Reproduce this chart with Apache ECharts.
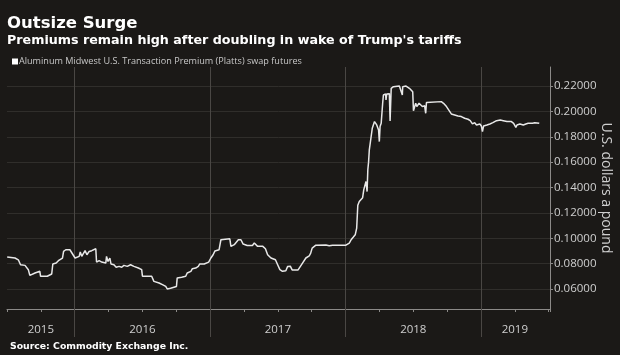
<!DOCTYPE html>
<html>
<head>
<meta charset="utf-8">
<script src="https://cdn.jsdelivr.net/npm/echarts@6/dist/echarts.min.js"></script>
<style>
html,body{margin:0;padding:0;background:#1b1917;}
#chart{width:620px;height:355px;}
</style>
</head>
<body>
<div id="chart"></div>
<script>
var titleText = 'Outsize Surge';
var subtitleText = "Premiums remain high after doubling in wake of Trump's tariffs";
var seriesName = 'Aluminum Midwest U.S. Transaction Premium (Platts) swap futures';
var sourceText = 'Source: Commodity Exchange Inc.';
var yAxisName = 'U.S. dollars a pound';

var yearLabels = ['2015', '2016', '2017', '2018', '2019'];
var yearBoundaries = [2016, 2017, 2018, 2019];
var axisStart = 2015.5;
var axisEndDate = '2019-07-06';

var dates = [
'2015-07-03','2015-07-24','2015-08-02','2015-08-08','2015-08-20','2015-08-29','2015-09-02','2015-09-16','2015-09-29','2015-10-01',
'2015-10-19','2015-10-31','2015-11-03','2015-11-12','2015-11-18','2015-11-29','2015-12-02','2015-12-08','2015-12-19','2015-12-24',
'2016-01-02','2016-01-06','2016-01-13','2016-01-16','2016-01-20','2016-01-29','2016-02-03','2016-02-09','2016-02-16','2016-02-27',
'2016-02-29','2016-03-07','2016-03-14','2016-03-25','2016-03-27','2016-03-31','2016-04-05','2016-04-08','2016-04-16','2016-04-22',
'2016-04-30','2016-05-07','2016-05-13','2016-05-22','2016-05-31','2016-06-09','2016-06-21','2016-06-30','2016-07-02','2016-07-27',
'2016-08-02','2016-08-16','2016-08-25','2016-09-03','2016-09-07','2016-09-16','2016-09-21','2016-10-02','2016-10-04','2016-10-16',
'2016-10-27','2016-10-31','2016-11-10','2016-11-14','2016-11-23','2016-11-30','2016-12-04','2016-12-07','2016-12-16','2016-12-28',
'2017-01-03','2017-01-09','2017-01-14','2017-01-25','2017-01-30','2017-02-03','2017-02-23','2017-02-26','2017-03-07','2017-03-11',
'2017-03-18','2017-03-25','2017-03-31','2017-04-05','2017-04-11','2017-04-25','2017-04-30','2017-05-09','2017-05-23','2017-05-30',
'2017-06-05','2017-06-14','2017-06-26','2017-07-02','2017-07-08','2017-07-15','2017-07-24','2017-07-29','2017-08-05','2017-08-10',
'2017-08-26','2017-09-07','2017-09-16','2017-09-25','2017-09-29','2017-10-03','2017-10-13','2017-11-09','2017-11-14','2017-11-18',
'2017-11-27','2018-01-02','2018-01-11','2018-01-16','2018-01-22','2018-01-27','2018-01-31','2018-02-03','2018-02-07','2018-02-12',
'2018-02-16','2018-02-19','2018-02-24','2018-02-25','2018-02-27','2018-02-28','2018-03-02','2018-03-04','2018-03-06','2018-03-11',
'2018-03-14','2018-03-20','2018-03-26','2018-03-31','2018-04-02','2018-04-04','2018-04-07','2018-04-11','2018-04-13','2018-04-19',
'2018-04-20','2018-04-22','2018-04-29','2018-05-01','2018-05-04','2018-05-10','2018-05-26','2018-05-31','2018-06-03','2018-06-04',
'2018-06-13','2018-06-22','2018-06-27','2018-07-01','2018-07-03','2018-07-09','2018-07-12','2018-07-18','2018-07-21','2018-07-27',
'2018-08-02','2018-08-05','2018-08-07','2018-09-16','2018-09-22','2018-09-30','2018-10-09','2018-10-13','2018-10-22','2018-10-31',
'2018-11-09','2018-11-18','2018-11-27','2018-12-03','2018-12-09','2018-12-15','2018-12-20','2018-12-29','2019-01-02','2019-01-05',
'2019-01-08','2019-01-17','2019-01-25','2019-02-02','2019-02-12','2019-02-22','2019-03-02','2019-03-12','2019-03-24','2019-03-30',
'2019-04-05','2019-04-08','2019-04-16','2019-04-25','2019-05-02','2019-05-08','2019-05-13','2019-05-20','2019-05-26','2019-05-31',
'2019-06-07'
];

var premium = [
0.0852,0.0844,0.0830,0.0791,0.0786,0.0752,0.0707,0.0726,0.0739,0.0700,
0.0700,0.0718,0.0797,0.0804,0.0823,0.0844,0.0896,0.0909,0.0909,0.0896,
0.0844,0.0830,0.0857,0.0891,0.0857,0.0902,0.0870,0.0896,0.0902,0.0917,
0.0812,0.0823,0.0812,0.0804,0.0857,0.0817,0.0844,0.0797,0.0791,0.0771,
0.0778,0.0771,0.0786,0.0778,0.0791,0.0778,0.0765,0.0752,0.0700,0.0700,
0.0660,0.0647,0.0634,0.0620,0.0600,0.0605,0.0620,0.0620,0.0687,0.0692,
0.0700,0.0726,0.0739,0.0760,0.0765,0.0778,0.0797,0.0786,0.0797,0.0812,
0.0844,0.0870,0.0900,0.0909,0.0988,0.0996,0.0996,0.0936,0.0949,0.0962,
0.0988,0.0988,0.0954,0.0962,0.0943,0.0943,0.0962,0.0936,0.0936,0.0917,
0.0870,0.0844,0.0830,0.0791,0.0752,0.0739,0.0743,0.0778,0.0780,0.0750,
0.0750,0.0804,0.0844,0.0860,0.0883,0.0922,0.0945,0.0947,0.0936,0.0940,
0.0945,0.0945,0.0962,0.0988,0.1009,0.1027,0.1080,0.1260,0.1290,0.1300,
0.1320,0.1381,0.1387,0.1447,0.1447,0.1368,0.1540,0.1600,0.1696,0.1710,
0.1867,0.1920,0.1893,0.1853,0.1762,0.1880,0.1906,0.2064,0.2129,0.2137,
0.2090,0.2137,0.2140,0.1925,0.2182,0.2195,0.2200,0.2195,0.2129,0.2195,
0.2200,0.2182,0.2169,0.2155,0.2005,0.2064,0.2038,0.2064,0.2050,0.2038,
0.2045,0.1985,0.2070,0.2077,0.2064,0.2038,0.1998,0.1980,0.1972,0.1964,
0.1959,0.1946,0.1938,0.1927,0.1901,0.1911,0.1893,0.1901,0.1885,0.1840,
0.1885,0.1893,0.1901,0.1911,0.1927,0.1932,0.1927,0.1920,0.1920,0.1906,
0.1874,0.1893,0.1901,0.1893,0.1901,0.1906,0.1901,0.1906,0.1911,0.1901,
0.1906
];

function toYear(s) {
  var p = s.split('-');
  var y = +p[0];
  var start = Date.UTC(y, 0, 1), end = Date.UTC(y + 1, 0, 1);
  var t = Date.UTC(y, +p[1] - 1, +p[2]);
  return y + (t - start) / (end - start);
}

var xMin = axisStart;
var xMax = toYear(axisEndDate);
var seriesData = dates.map(function (d, i) { return [toYear(d), premium[i]]; });

function yearLabelAt(v) {
  for (var i = 0; i < yearLabels.length; i++) {
    var y = +yearLabels[i];
    var lo = Math.max(y, xMin), hi = Math.min(y + 1, xMax);
    var c = (lo + hi) / 2;
    if (Math.abs(v - c) < 0.125) return yearLabels[i];
  }
  return '';
}

var FONT = 'Open Sans';
var BOLD = 'DejaVu Sans';
var sepStyle = { color: '#4a4744', width: 1, type: 'solid' };
var sepLines = yearBoundaries.map(function (y) { return { xAxis: y }; });

var chart = echarts.init(document.getElementById('chart'), null, { renderer: 'canvas' });
chart.setOption({
  backgroundColor: '#1b1917',
  animation: false,
  textStyle: { fontFamily: FONT },
  title: [
    { text: titleText, left: 2, top: 10, textStyle: { color: '#ffffff', fontSize: 16.5, fontWeight: 'bold', fontFamily: BOLD } },
    { text: subtitleText, left: 2, top: 29, textStyle: { color: '#ffffff', fontSize: 12.7, fontWeight: 'bold', fontFamily: BOLD } },
    { text: sourceText, left: 5, top: 337, textStyle: { color: '#ffffff', fontSize: 9.3, fontWeight: 'bold', fontFamily: BOLD } }
  ],
  legend: {
    left: 7, top: 52, icon: 'rect', itemWidth: 6, itemHeight: 6, itemGap: 10,
    textStyle: { color: '#c8c8c8', fontSize: 9.1, fontFamily: FONT, padding: [0, 0, 0, -4] },
    data: [seriesName]
  },
  grid: [
    { left: 7, right: 70, top: 67, bottom: 46, containLabel: false, outerBoundsMode: 'none' },
    { left: 7, right: 70, top: 309, bottom: 18, containLabel: false, outerBoundsMode: 'none' }
  ],
  xAxis: [
    {
      type: 'value', gridIndex: 0, min: xMin, max: xMax, interval: 0.25,
      axisLine: { show: true, lineStyle: { color: '#8c8a88', width: 1 } },
      axisTick: { show: true, length: 3, inside: false, lineStyle: { color: '#8c8a88' } },
      axisLabel: { show: true, margin: 15, color: '#cfcfcf', fontSize: 11.5, fontFamily: FONT, formatter: yearLabelAt, showMinLabel: true, showMaxLabel: true },
      splitLine: { show: false }
    },
    { type: 'value', gridIndex: 1, min: xMin, max: xMax, show: false }
  ],
  yAxis: [
    {
      type: 'value', gridIndex: 0, position: 'right', min: 0.0442, max: 0.235, splitNumber: 9,
      axisLine: { show: true, lineStyle: { color: '#8c8a88', width: 1 } },
      axisTick: { show: true, length: 3, lineStyle: { color: '#8c8a88' } },
      axisLabel: { color: '#cfcfcf', fontSize: 11.5, margin: 4, fontFamily: FONT, showMinLabel: false, showMaxLabel: false,
        formatter: function (v) { return v.toFixed(5); } },
      splitLine: { show: true, showMinLine: false, showMaxLine: false, lineStyle: { color: '#302e2b', width: 1 } },
      name: yAxisName, nameLocation: 'middle', nameRotate: -90, nameGap: 49, nameMoveOverlap: false,
      nameTextStyle: { color: '#cfcfcf', fontSize: 14, fontFamily: FONT }
    },
    { type: 'value', gridIndex: 1, min: 0, max: 1, show: false }
  ],
  series: [
    {
      name: seriesName, type: 'line', xAxisIndex: 0, yAxisIndex: 0,
      data: seriesData, showSymbol: false, symbol: 'none',
      lineStyle: { color: '#e8e8e8', width: 1.5 }, itemStyle: { color: '#ffffff' },
      z: 5,
      markLine: { silent: true, symbol: ['none', 'none'], label: { show: false }, lineStyle: sepStyle, data: sepLines, z: 1, animation: false }
    },
    {
      name: 'sep', type: 'line', xAxisIndex: 1, yAxisIndex: 1,
      data: [[xMin, 0]], showSymbol: false, symbol: 'none', lineStyle: { opacity: 0 },
      markLine: { silent: true, symbol: ['none', 'none'], label: { show: false }, lineStyle: sepStyle, data: sepLines, animation: false }
    }
  ]
});
</script>
</body>
</html>
